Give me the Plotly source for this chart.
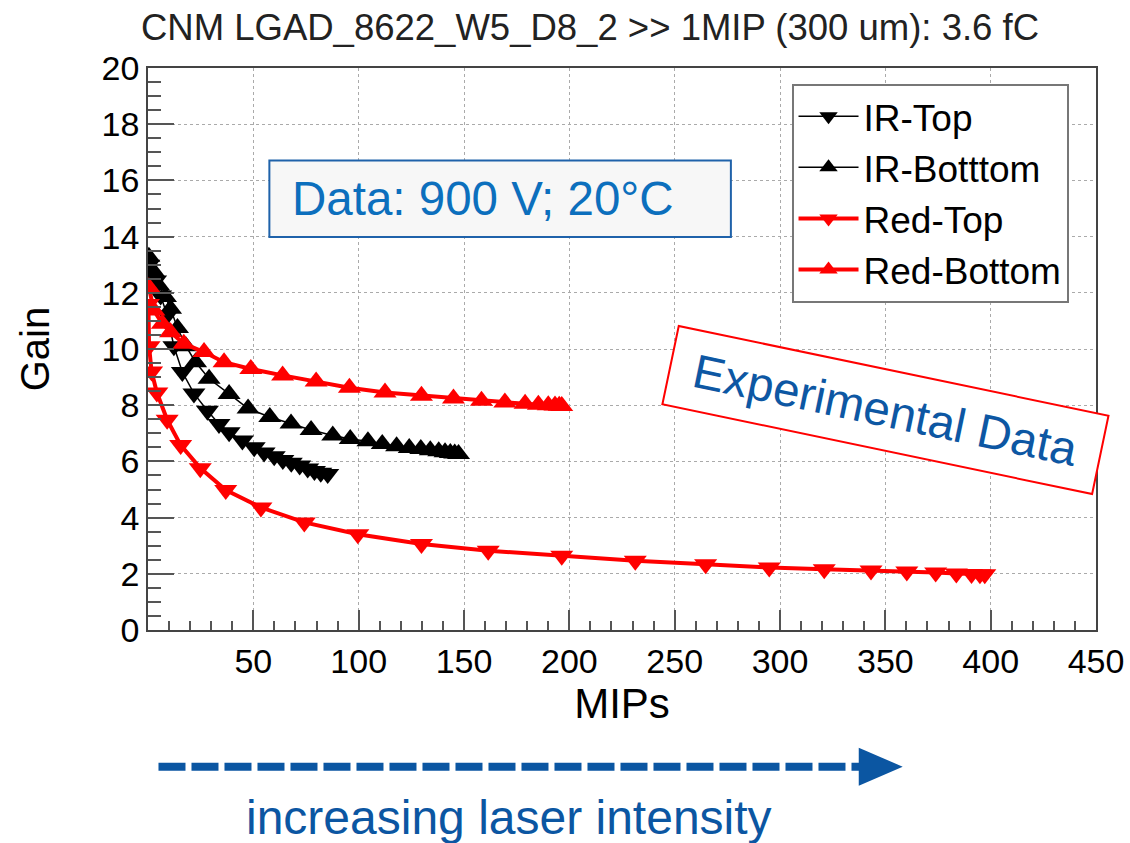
import plotly.graph_objects as go

# ---- measured gain vs. injected charge (in MIPs) ----
ir_top_mips = [0.4, 3.6, 6.0, 9.1, 12.3, 16.3, 21.8, 28.2, 33.7, 38.5, 44.8, 50.4,
               55.1, 59.9, 64.0, 68.0, 72.0, 75.8, 79.0, 82.0, 85.3]
ir_top_gain = [13.0, 12.44, 11.9, 11.2, 10.1, 9.18, 8.42, 7.8, 7.33, 7.04, 6.74, 6.5,
               6.32, 6.18, 6.05, 5.95, 5.85, 5.75, 5.66, 5.6, 5.55]

ir_bottom_mips = [0.4, 2.8, 5.1, 8.3, 10.7, 14.0, 18.0, 22.6, 29.0, 38.5, 47.5, 57.8,
                  67.9, 77.4, 87.7, 96.0, 104.4, 111.2, 118.0, 124.0, 129.5, 134.0,
                  138.0, 141.0, 143.5, 145.6, 147.4]
ir_bottom_gain = [13.28, 12.74, 12.26, 11.85, 11.43, 10.75, 10.1, 9.53, 8.94, 8.4, 7.88, 7.58,
                  7.35, 7.12, 6.92, 6.8, 6.72, 6.62, 6.54, 6.48, 6.44, 6.4,
                  6.36, 6.33, 6.3, 6.28, 6.26]

red_top_mips = [0.2, 0.5, 1.7, 4.2, 9.1, 15.5, 24.8, 36.9, 53.6, 74.2, 99.6, 129.8,
                161.5, 196.4, 231.3, 264.7, 294.9, 321.0, 343.2, 360.2, 373.9, 383.7,
                390.9, 394.9, 397.2]
red_top_gain = [11.6, 10.1, 9.2, 8.45, 7.48, 6.58, 5.76, 4.98, 4.36, 3.83, 3.41, 3.06,
                2.82, 2.64, 2.46, 2.34, 2.22, 2.16, 2.12, 2.08, 2.05, 2.01,
                1.99, 1.98, 1.98]

red_bottom_mips = [0.4, 2.8, 6.8, 10.7, 17.0, 26.6, 36.1, 48.8, 63.9, 79.8, 95.6, 112.5,
                   129.8, 145.0, 158.3, 169.4, 179.0, 185.3, 190.0, 193.2, 195.2, 196.4]
red_bottom_gain = [12.2, 11.37, 10.9, 10.6, 10.19, 9.89, 9.53, 9.29, 9.06, 8.84, 8.62, 8.45,
                   8.34, 8.24, 8.16, 8.1, 8.05, 8.02, 8.0, 7.99, 7.98, 7.97]

series_names = ["IR-Top", "IR-Botttom", "Red-Top", "Red-Bottom"]

x_tick_values = [50, 100, 150, 200, 250, 300, 350, 400, 450]
y_tick_values = [0, 2, 4, 6, 8, 10, 12, 14, 16, 18, 20]

# ---- page geometry ----
W, H = 1130, 843
L, R, T, B = 147.5, 1096.5, 68.3, 630.3   # plot frame in page pixels
FONT = "Liberation Sans, Arial, Helvetica, sans-serif"
BLUE = "#0b56a2"


def px(xp):
    return (xp - L) / (R - L)


def py(yp):
    return (B - yp) / (B - T)


fig = go.Figure()

styles = [
    (ir_top_mips, ir_top_gain, "black", 1.5, "triangle-down"),
    (ir_bottom_mips, ir_bottom_gain, "black", 1.5, "triangle-up"),
    (red_top_mips, red_top_gain, "#ff0000", 4, "triangle-down"),
    (red_bottom_mips, red_bottom_gain, "#ff0000", 4, "triangle-up"),
]
for name, (xs, ys, col, lw, sym) in zip(series_names, styles):
    fig.add_trace(go.Scatter(
        x=xs, y=ys, name=name, mode="lines+markers",
        line=dict(color=col, width=lw),
        marker=dict(symbol=sym, size=20, color=col, line=dict(width=0)),
    ))

axis_common = dict(
    showline=True, linecolor="#444", linewidth=1.5, mirror=True,
    showgrid=True, gridcolor="#aaaaaa", gridwidth=1, griddash="dot",
    zeroline=False, ticks="inside", tickcolor="#555", tickwidth=1.5,
    tickfont=dict(family=FONT, size=34, color="black"),
)

fig.update_xaxes(
    range=[0, 450], tickmode="array", tickvals=x_tick_values, ticklen=20,
    minor=dict(dtick=10, tick0=0, ticks="inside", ticklen=9, tickcolor="#555", showgrid=False),
    title=dict(text="MIPs", font=dict(family=FONT, size=42, color="black"), standoff=10),
    **axis_common,
)
fig.update_yaxes(
    range=[0, 20], tickmode="array", tickvals=y_tick_values, ticklen=26,
    minor=dict(dtick=0.5, tick0=0, ticks="inside", ticklen=13, tickcolor="#555", showgrid=False),
    title=dict(text="Gain", font=dict(family=FONT, size=40, color="black"), standoff=40),
    ticklabelstandoff=0,
    **axis_common,
)

fig.update_layout(
    width=W, height=H,
    margin=dict(l=L, r=W - R, t=T, b=H - B, autoexpand=False),
    paper_bgcolor="white", plot_bgcolor="white",
    font=dict(family=FONT),
    title=dict(
        text="CNM LGAD_8622_W5_D8_2 >> 1MIP (300 um): 3.6 fC",
        font=dict(family=FONT, size=36.5, color="#222"),
        xref="container", yref="container", x=590 / W, y=1 - 27 / H,
        xanchor="center", yanchor="middle",
    ),
    legend=dict(
        x=px(791.7), y=py(84), xanchor="left", yanchor="top",
        bgcolor="white", bordercolor="#777", borderwidth=2,
        font=dict(family=FONT, size=37, color="black"),
        traceorder="normal", itemwidth=60,
    ),
    showlegend=True,
)

# condition box
fig.add_shape(type="rect", xref="paper", yref="paper",
              x0=px(269), x1=px(731), y0=py(237.3), y1=py(160.7),
              fillcolor="#f7f7f7", line=dict(color="#1f62aa", width=2), layer="above")
fig.add_annotation(xref="paper", yref="paper", x=px(290), y=py(199),
                   xanchor="left", yanchor="middle", showarrow=False,
                   text="Data: 900 V; 20°C",
                   font=dict(family=FONT, size=47.5, color="#0c6fbd"))

# tilted label
fig.add_annotation(xref="paper", yref="paper", x=px(885.7), y=py(410),
                   xanchor="center", yanchor="middle", showarrow=False,
                   text="Experimental Data", textangle=11.8,
                   width=415, height=56, borderpad=11,
                   bgcolor="white", bordercolor="#ff0000", borderwidth=2,
                   font=dict(family=FONT, size=47.5, color="#0d57a3"))

# dashed arrow below the axis
fig.add_shape(type="line", xref="paper", yref="paper",
              x0=px(158), x1=px(862), y0=py(767), y1=py(767),
              line=dict(color=BLUE, width=8, dash="27px,6px"), layer="above")
fig.add_shape(type="path", xref="paper", yref="paper",
              path=f"M {px(859)} {py(748)} L {px(903)} {py(767)} L {px(859)} {py(786)} Z",
              fillcolor=BLUE, line=dict(color=BLUE, width=0), layer="above")
fig.add_annotation(xref="paper", yref="paper", x=px(509), y=py(818),
                   xanchor="center", yanchor="middle", showarrow=False,
                   text="increasing laser intensity",
                   font=dict(family=FONT, size=48, color=BLUE))

fig.write_html("out.html")
